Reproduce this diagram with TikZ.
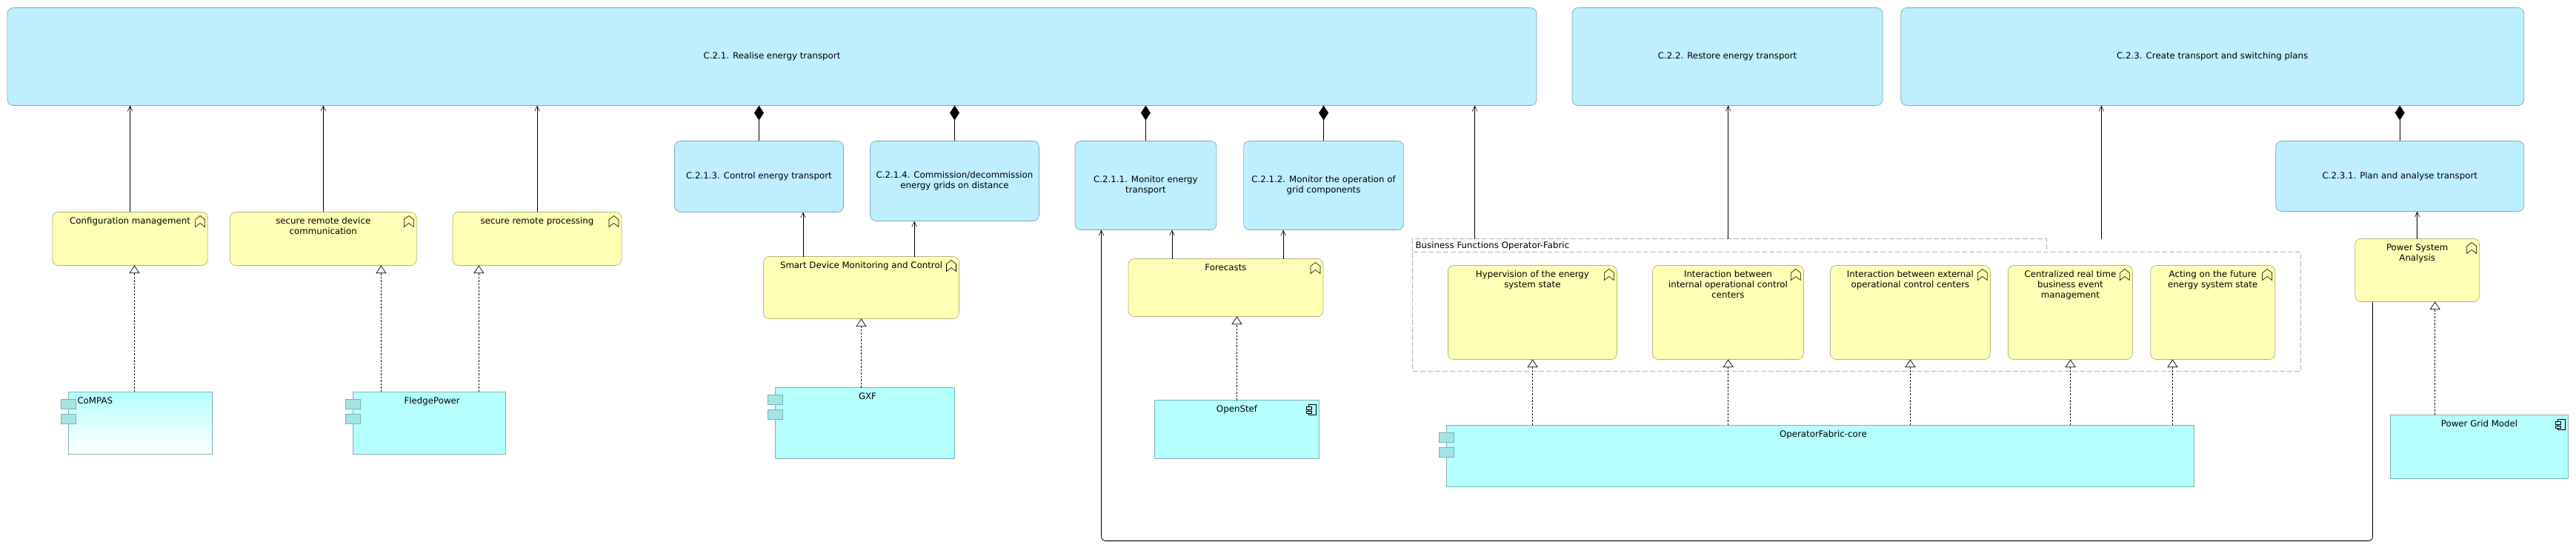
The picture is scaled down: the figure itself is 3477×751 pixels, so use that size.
\documentclass[tikz,border=0pt]{standalone}
\usepackage{fontspec}
\setmainfont{DejaVu Sans}
\usepackage{xcolor}
\usepackage{tikz}
\usetikzlibrary{arrows.meta}
\definecolor{bluefill}{HTML}{BDEFFF}
\definecolor{blueline}{HTML}{84A7B2}
\definecolor{yellowfill}{HTML}{FFFFB5}
\definecolor{yellowline}{HTML}{B2B27E}
\definecolor{cyanfill}{HTML}{B5FFFF}
\definecolor{cyanline}{HTML}{7EB2B2}
\definecolor{tabfill}{HTML}{A3E5E5}
\definecolor{groupline}{HTML}{B5B5B5}
\newcommand{\boxfont}{\fontsize{11.8}{14}\selectfont}
\newcommand{\topbox}[4][\centering]{\parbox[t][#3pt][t]{#2pt}{#1\boxfont\rule{0pt}{16pt}#4}}
\newcommand{\tabbedtext}{\centering\advance\leftskip 7.4pt\relax}
\tikzset{
    grp/.style={draw=groupline, line width=.8pt, dash pattern=on 7pt off 3pt, fill=white, outer sep=0pt},
    proc/.style={draw=blueline, fill=bluefill, rounded corners=8pt, line width=.7pt, outer sep=0pt, align=center, font=\boxfont},
    func/.style={draw=yellowline, fill=yellowfill, rounded corners=8pt, line width=.7pt, inner sep=0pt, outer sep=0pt},
    comp/.style={draw=cyanline, fill=cyanfill, line width=.7pt, inner sep=0pt, outer sep=0pt},
    serve/.style={-{Straight Barb[length=7pt,width=6.5pt,line width=.6pt]}, line width=.8pt},
    part/.style={-{Diamond[length=20pt,width=13pt,line width=0pt]}, line width=.8pt},
    real/.style={-{Triangle[fill=white,length=10.5pt,width=14pt,line width=.7pt]}, line width=.6pt, dash pattern=on 2.5pt off 2pt},
    funcicon/.pic={\draw[line width=.6pt] (-13,5) -- (-6.5,0) -- (0,5) -- (0,15) -- (-6.5,10) -- (-13,15) -- cycle;},
    compicon/.pic={
        \draw[line width=.6pt, fill=cyanfill] (-10,0) rectangle (0,14);
        \draw[line width=.6pt, fill=cyanfill] (-13,3) rectangle (-6.5,6.5);
        \draw[line width=.6pt, fill=cyanfill] (-13,8.5) rectangle (-6.5,12);
    },
    comptabs/.pic={
        \draw[draw=cyanline, fill=tabfill, line width=.7pt] (-10,10) rectangle (10,23);
        \draw[draw=cyanline, fill=tabfill, line width=.7pt] (-10,30) rectangle (10,43);
    }
}
\begin{document}
\begin{tikzpicture}[x=1pt, y=-1pt]
\useasboundingbox (0,0) rectangle (3477,751);

% Group
\node[grp, minimum width=855.8, minimum height=17.6, inner sep=3.5pt, anchor=north west, text width=848, font=\boxfont] (bftab) at (1906.7,322.8) {Business Functions Operator-Fabric};
\node[grp, minimum width=1198.7, minimum height=160.8, anchor=north west] (bfbody) at (1906.7,340.5) {};

% Top row
\node[proc, minimum width=2064, minimum height=132] (r21) at (1042,76.5) {C.2.1. Realise energy transport};
\node[proc, minimum width=419, minimum height=132] (r22) at (2331.5,76.5) {C.2.2. Restore energy transport};
\node[proc, minimum width=841, minimum height=132] (r23) at (2986.2,76.5) {C.2.3. Create transport and switching plans};

% Second row
\node[proc, minimum width=228, minimum height=96] (r213) at (1024.5,238.5) {C.2.1.3. Control energy transport};
\node[proc, minimum width=228, minimum height=108] (r214) at (1288.5,244.5) {C.2.1.4. Commission/decommission\\energy grids on distance};
\node[proc, minimum width=191, minimum height=120] (r211) at (1546.4,250.5) {C.2.1.1. Monitor energy\\transport};
\node[proc, minimum width=216, minimum height=120] (r212) at (1786.6,250.5) {C.2.1.2. Monitor the operation of\\grid components};
\node[proc, minimum width=335, minimum height=95] (r231) at (3239.2,238) {C.2.3.1. Plan and analyse transport};

% Functions
\node[func] (cfg) at (175.6,322.5) {\topbox{210}{72}{Configuration management}};
\node[func] (srd) at (436.3,322.5) {\topbox{252}{72}{secure remote device\\communication}};
\node[func] (srp) at (725,322.5) {\topbox{228}{72}{secure remote processing}};
\node[func] (sdm) at (1162.5,388.5) {\topbox{264}{84}{Smart Device Monitoring and Control}};
\node[func] (fc) at (1654.5,388.5) {\topbox{263}{78}{Forecasts}};
\node[func] (hyp) at (2068.4,422) {\topbox{228}{127}{Hypervision of the energy\\system state}};
\node[func] (iic) at (2332.4,422) {\topbox{204}{127}{Interaction between\\internal operational control\\centers}};
\node[func] (iec) at (2578.4,422) {\topbox{216}{127}{Interaction between external\\operational control centers}};
\node[func] (crt) at (2794.4,422) {\topbox{168}{127}{Centralized real time\\business event\\management}};
\node[func] (act) at (2986.7,422) {\topbox{168}{127}{Acting on the future\\energy system state}};
\node[func] (psa) at (3262.7,365) {\topbox{168}{85}{Power System\\Analysis}};

% Components
\node[comp, top color=cyanfill, bottom color=white] (compas) at (189.5,571.3) {\topbox[\raggedright\leftskip=12pt\relax]{194}{84}{CoMPAS}};
\node[comp] (fledge) at (579.5,571.3) {\topbox[\tabbedtext]{206}{84}{FledgePower}};
\node[comp] (gxf) at (1167.3,571.5) {\topbox[\tabbedtext]{241.5}{96}{GXF}};
\node[comp] (ost) at (1669.5,580.1) {\topbox{222}{79}{OpenStef}};
\node[comp] (ofc) at (2457.2,615.8) {\topbox[\tabbedtext]{1009}{83}{OperatorFabric-core}};
\node[comp] (pgm) at (3346.5,603.3) {\topbox{240.4}{86}{Power Grid Model}};

% Icons
\foreach \fn in {cfg,srd,srp,sdm,fc,hyp,iic,iec,crt,act,psa}
    \pic at ([xshift=-4,yshift=-5]\fn.north east) {funcicon};
\foreach \cn in {ost,pgm}
    \pic at ([xshift=-4,yshift=-6]\cn.north east) {compicon};
\foreach \cn in {compas,fledge,gxf,ofc}
    \pic at (\cn.north west) {comptabs};

% Composition
\foreach \pn/\tn in {r213/r21,r214/r21,r211/r21,r212/r21,r231/r23}
    \draw[part] (\pn.north) -- (\pn.north |- \tn.south);

% Serving
\draw[serve] (cfg.north) -- (cfg.north |- r21.south);
\draw[serve] (srd.north) -- (srd.north |- r21.south);
\draw[serve] (srp.north) -- (srp.north |- r21.south);
\draw[serve] ([xshift=-78.5]sdm.north) -- ([xshift=-78.5]sdm.north |- r213.south);
\draw[serve] ([xshift=71.5]sdm.north) -- ([xshift=71.5]sdm.north |- r214.south);
\draw[serve] ([xshift=-72.5]fc.north) -- ([xshift=-72.5]fc.north |- r211.south);
\draw[serve] ([xshift=77.5]fc.north) -- ([xshift=77.5]fc.north |- r212.south);
\draw[serve] (psa.north) -- (psa.north |- r231.south);
\draw[serve] ([xshift=-344]bftab.north) -- ([xshift=-344]bftab.north |- r21.south);
\draw[serve] ([xshift=-1.9]bftab.north) -- ([xshift=-1.9]bftab.north |- r22.south);
\coordinate (bfend) at (2836.3,322.8);
\draw[serve] (bfend) -- (bfend |- r23.south);
\coordinate (loopy) at (2300,730.6);
\draw[serve, rounded corners=6pt] ([xshift=-60.2]psa.south) -- ([xshift=-60.2]psa.south |- loopy) -- ([xshift=-59.9]r211.south |- loopy) -- ([xshift=-59.9]r211.south);

% Realization
\foreach \sx/\cn/\fn in {-8/compas/cfg,-65.1/fledge/srd,66.9/fledge/srp,-4.8/gxf/sdm,0/ost/fc,-388.6/ofc/hyp,-124.5/ofc/iic,121.2/ofc/iec,337.4/ofc/crt,475.2/ofc/act,-59.8/pgm/psa}
    \draw[real] ([xshift=\sx]\cn.north) -- ([xshift=\sx]\cn.north |- \fn.south);

\end{tikzpicture}
\end{document}
